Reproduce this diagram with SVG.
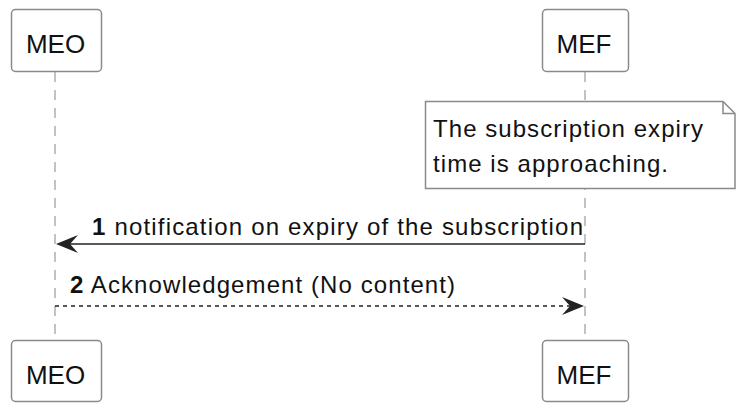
<svg xmlns="http://www.w3.org/2000/svg" width="736" height="403" viewBox="0 0 736 403">
<style>
.box{fill:#fff;stroke:#8a8a8a;stroke-width:1.5}
.life{stroke:#9a9a9a;stroke-width:1.2;stroke-dasharray:10,8;fill:none}
.t{font-family:"Liberation Sans",Arial,sans-serif;font-size:24px;fill:#111}
.p{font-family:"Liberation Sans",Arial,sans-serif;font-size:26px;fill:#111;text-anchor:middle}
.b{font-weight:bold}
.msg{stroke:#222;stroke-width:1.5;fill:none}
.head{fill:#222;stroke:none}
</style>
<rect width="736" height="403" fill="#fff"/>
<g id="lifelines">
<line class="life" x1="55" y1="72" x2="55" y2="340"/>
<line class="life" x1="585" y1="72" x2="585" y2="340"/>
</g>
<g id="MEO_top"><rect class="box" x="11.5" y="9.5" width="90" height="62" rx="4"/><text class="p" x="55.5" y="53">MEO</text></g>
<g id="MEF_top"><rect class="box" x="542.5" y="9.5" width="86" height="62" rx="4"/><text class="p" x="584" y="53">MEF</text></g>
<g id="MEO_bottom"><rect class="box" x="11.5" y="340.5" width="90" height="61" rx="4"/><text class="p" x="55.5" y="384">MEO</text></g>
<g id="MEF_bottom"><rect class="box" x="542.5" y="340.5" width="86" height="61" rx="4"/><text class="p" x="584" y="384">MEF</text></g>
<g id="note">
<path d="M425.5,101.5 H723 L735,113.5 V188.5 H425.5 Z" fill="#fff" stroke="#8a8a8a" stroke-width="1.5"/>
<path d="M723,101.5 V113.5 H735" fill="none" stroke="#8a8a8a" stroke-width="1.5"/>
<text class="t" x="433" y="137" textLength="270" lengthAdjust="spacing">The subscription expiry</text>
<text class="t" x="433" y="172" textLength="235" lengthAdjust="spacing">time is approaching.</text>
</g>
<g id="connectors">
<line class="msg" x1="60" y1="244" x2="585" y2="244"/>
<polygon class="head" points="56,244 78,235 70,244 78,253"/>
<line class="msg" x1="55" y1="306" x2="580" y2="306" stroke-dasharray="4,4" stroke-width="1.3"/>
<polygon class="head" points="584,306 562,297 570,306 562,315"/>
</g>
<g id="labels">
<text class="t" x="92" y="235" textLength="491" lengthAdjust="spacing"><tspan class="b">1</tspan> notification on expiry of the subscription</text>
<text class="t" x="70" y="293" textLength="385" lengthAdjust="spacing"><tspan class="b">2</tspan> Acknowledgement (No content)</text>
</g>
</svg>
